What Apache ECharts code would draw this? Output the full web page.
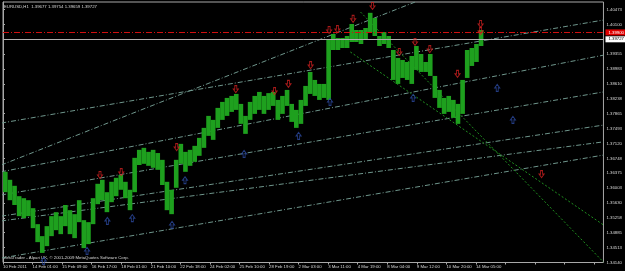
<!DOCTYPE html>
<html>
<head>
<meta charset="utf-8">
<script src="https://cdn.jsdelivr.net/npm/echarts@6/dist/echarts.min.js"></script>
<style>
  html, body { margin: 0; padding: 0; background: #000; }
  #chart { width: 625px; height: 271px; }
</style>
</head>
<body>
<div id="chart"></div>
<script>
// EURUSD H1, one entry per 5 bars (high / low of the block)
var highs = [1.3641, 1.3621, 1.3606, 1.3580, 1.3575, 1.3570, 1.3550, 1.3510, 1.3480, 1.3505,
  1.3530, 1.3540, 1.3530, 1.3558, 1.3545, 1.3535, 1.3570, 1.3520, 1.3515, 1.3575,
  1.3611, 1.3621, 1.3590, 1.3616, 1.3626, 1.3633, 1.3616, 1.3596, 1.3676, 1.3696,
  1.3701, 1.3691, 1.3696, 1.3688, 1.3671, 1.3616, 1.3596, 1.3671, 1.3711, 1.3691,
  1.3696, 1.3706, 1.3726, 1.3751, 1.3781, 1.3771, 1.3801, 1.3816, 1.3826, 1.3831,
  1.3836, 1.3811, 1.3781, 1.3816, 1.3831, 1.3841, 1.3831, 1.3838, 1.3841, 1.3821,
  1.3831, 1.3846, 1.3811, 1.3796, 1.3821, 1.3856, 1.3891, 1.3871, 1.3861, 1.3861,
  1.3971, 1.3986, 1.3976, 1.3976, 1.3981, 1.4011, 1.3996, 1.3996, 1.4001, 1.4039,
  1.4026, 1.3981, 1.3991, 1.3981, 1.3946, 1.3926, 1.3921, 1.3916, 1.3931, 1.3956,
  1.3936, 1.3916, 1.3936, 1.3881, 1.3846, 1.3826, 1.3831, 1.3821, 1.3811, 1.3871,
  1.3946, 1.3951, 1.3961, 1.3996];
var lows = [1.3590, 1.3570, 1.3558, 1.3530, 1.3525, 1.3530, 1.3500, 1.3465, 1.3438, 1.3455,
  1.3480, 1.3495, 1.3485, 1.3505, 1.3485, 1.3475, 1.3515, 1.3450, 1.3460, 1.3510,
  1.3560, 1.3570, 1.3540, 1.3565, 1.3580, 1.3596, 1.3575, 1.3545, 1.3590, 1.3658,
  1.3661, 1.3656, 1.3651, 1.3646, 1.3608, 1.3545, 1.3535, 1.3601, 1.3661, 1.3641,
  1.3656, 1.3666, 1.3681, 1.3701, 1.3731, 1.3721, 1.3751, 1.3771, 1.3781, 1.3791,
  1.3796, 1.3761, 1.3736, 1.3771, 1.3786, 1.3796, 1.3786, 1.3796, 1.3806, 1.3771,
  1.3786, 1.3806, 1.3766, 1.3751, 1.3761, 1.3806, 1.3836, 1.3831, 1.3821, 1.3826,
  1.3821, 1.3946, 1.3946, 1.3951, 1.3951, 1.3966, 1.3966, 1.3961, 1.3971, 1.3991,
  1.3981, 1.3956, 1.3961, 1.3951, 1.3871, 1.3861, 1.3876, 1.3871, 1.3861, 1.3896,
  1.3891, 1.3891, 1.3881, 1.3826, 1.3801, 1.3786, 1.3791, 1.3776, 1.3761, 1.3786,
  1.3876, 1.3906, 1.3916, 1.3956];

var timeLabels = ['10 Feb 2011', '14 Feb 01:00', '15 Feb 09:00', '16 Feb 17:00', '18 Feb 01:00',
  '21 Feb 10:00', '22 Feb 18:00', '24 Feb 02:00', '25 Feb 10:00', '28 Feb 19:00', '2 Mar 03:00',
  '3 Mar 11:00', '4 Mar 19:00', '8 Mar 04:00', '9 Mar 12:00', '10 Mar 20:00', '14 Mar 05:00'];
var priceLabels = ['1.34140', '1.34513', '1.34885', '1.35258', '1.35630', '1.36003', '1.36375',
  '1.36748', '1.37120', '1.37493', '1.37865', '1.38238', '1.38610', '1.38983', '1.39355',
  '1.39728', '1.40100', '1.40473'];

// fractal arrows: [bar, price]
var upFractals = [[105, 1.3623], [128, 1.3630], [188, 1.3693], [252, 1.3838], [294, 1.3833],
  [309, 1.3851], [333, 1.3898], [353, 1.3986], [362, 1.3988], [379, 1.4014], [400, 1.4046],
  [429, 1.3931], [446, 1.3956], [462, 1.3938], [492, 1.3876], [517, 1.4001], [517, 1.3983],
  [583, 1.3625]];
var downFractals = [[44, 1.3428], [91, 1.3453], [113, 1.3528], [140, 1.3535], [183, 1.3518],
  [197, 1.3630], [261, 1.3696], [320, 1.3741], [354, 1.3826], [444, 1.3836], [535, 1.3861],
  [552, 1.3781]];

// trend lines: [bar1, price1, bar2, price2]
var channelLines = [
  [-2, 1.3763, 650, 1.4021],
  [-2, 1.3658, 446, 1.4066],
  [-2, 1.3641, 650, 1.3933],
  [-2, 1.3583, 650, 1.3841],
  [-2, 1.3530, 650, 1.3758],
  [-2, 1.3518, 650, 1.3716],
  [-2, 1.3425, 650, 1.3683]
];
var fallLines = [
  [376, 1.3941, 650, 1.3508],
  [387, 1.4041, 650, 1.3415]
];

var resistance = 1.3990;
var bid = 1.39727;

var PRICE_MIN = 1.3414;
var PRICE_STEP = 0.003725;
var BARS_PER_BLOCK = 5;
var TXT = '#d8d8d8';
var FONT = 'Liberation Sans';
var FS = 4.3;

var chart = echarts.init(document.getElementById('chart'));

var blocks = highs.map(function(h, i) {
  return [i * BARS_PER_BLOCK + BARS_PER_BLOCK / 2, lows[i], h];
});

var series = [{
  type: 'custom',
  data: blocks,
  encode: { x: 0, y: [1, 2] },
  renderItem: function(params, api) {
    var top = api.coord([api.value(0), api.value(2)]);
    var bottom = api.coord([api.value(0), api.value(1)]);
    var w = api.size([BARS_PER_BLOCK, 0])[0];
    return {
      type: 'rect',
      shape: { x: top[0] - w / 2, y: top[1], width: w, height: Math.max(1, bottom[1] - top[1]) },
      style: { fill: '#1ea01e' }
    };
  },
  z: 3
}];

channelLines.forEach(function(l) {
  series.push({
    type: 'line',
    data: [[l[0], l[1]], [l[2], l[3]]],
    symbol: 'none',
    silent: true,
    lineStyle: { color: '#6f968c', width: 1, type: [5, 2, 1, 2] },
    z: 2
  });
});
fallLines.forEach(function(l) {
  series.push({
    type: 'line',
    data: [[l[0], l[1]], [l[2], l[3]]],
    symbol: 'none',
    silent: true,
    lineStyle: { color: '#1f8f1f', width: 1, type: [2, 2] },
    z: 2
  });
});

series.push({
  type: 'line',
  data: [],
  markLine: {
    silent: true,
    symbol: 'none',
    animation: false,
    precision: 5,
    data: [
      {
        yAxis: resistance,
        lineStyle: { color: '#d01010', width: 1, type: [6, 2, 1, 2] },
        label: { position: 'end', formatter: '1.39900', color: '#fff', backgroundColor: '#e00000',
          fontSize: FS, fontFamily: FONT, padding: [1, 3], distance: 2 }
      },
      {
        yAxis: bid,
        lineStyle: { color: '#b0b0b0', width: 1, type: 'solid' },
        label: { position: 'end', formatter: '1.39727', color: '#000', backgroundColor: '#fff',
          fontSize: FS, fontFamily: FONT, padding: [1, 3], distance: 2 }
      }
    ]
  },
  z: 4
});

series.push({
  type: 'scatter',
  data: upFractals,
  symbol: 'path://M3,0 L7,0 L7,5 L10,5 L5,10 L0,5 L3,5 Z',
  symbolSize: [5, 7],
  symbolOffset: [0, -4],
  itemStyle: { color: 'rgba(0,0,0,0)', borderColor: '#d02020', borderWidth: 1 },
  silent: true,
  z: 5
});
series.push({
  type: 'scatter',
  data: downFractals,
  symbol: 'path://M5,0 L10,5 L7,5 L7,10 L3,10 L3,5 L0,5 Z',
  symbolSize: [5, 7],
  symbolOffset: [0, 4],
  itemStyle: { color: 'rgba(0,0,0,0)', borderColor: '#2c4aa0', borderWidth: 1 },
  silent: true,
  z: 5
});

chart.setOption({
  backgroundColor: '#000',
  animation: false,
  grid: {
    left: 2, right: 18, top: 2, bottom: 8.5,
    show: true, borderColor: '#a8a8a8', borderWidth: 1, backgroundColor: '#000'
  },
  graphic: [
    {
      type: 'text', left: 4, top: 5,
      style: { text: 'EURUSD,H1  1.39677 1.39754 1.39659 1.39727', fill: TXT, fontSize: FS, fontFamily: FONT }
    },
    {
      type: 'text', left: 3, top: 256,
      style: { text: 'MetaTrader - Alpari UK, \u00a9 2001-2009 MetaQuotes Software Corp.', fill: TXT, fontSize: FS, fontFamily: FONT }
    }
  ],
  xAxis: {
    type: 'value',
    min: 0,
    max: 650,
    interval: 32,
    axisLine: { show: false },
    axisTick: { show: true, length: 2, lineStyle: { color: '#a8a8a8' } },
    splitLine: { show: false },
    axisLabel: {
      color: TXT, fontSize: FS, fontFamily: FONT, margin: 2, align: 'left',
      showMinLabel: true, showMaxLabel: false, hideOverlap: false,
      formatter: function(v) {
        return timeLabels[Math.round(v / 32)] || '';
      }
    }
  },
  yAxis: {
    type: 'value',
    position: 'right',
    min: PRICE_MIN,
    max: 1.40661,
    interval: PRICE_STEP,
    axisLine: { show: true, lineStyle: { color: '#a8a8a8' } },
    axisTick: { show: true, length: 2, lineStyle: { color: '#a8a8a8' } },
    splitLine: { show: false },
    axisLabel: {
      color: TXT, fontSize: FS, fontFamily: FONT, margin: 3, align: 'left',
      showMinLabel: true, showMaxLabel: false, hideOverlap: false,
      formatter: function(v) {
        return priceLabels[Math.round((v - PRICE_MIN) / PRICE_STEP)] || '';
      }
    }
  },
  series: series
});
</script>
</body>
</html>
